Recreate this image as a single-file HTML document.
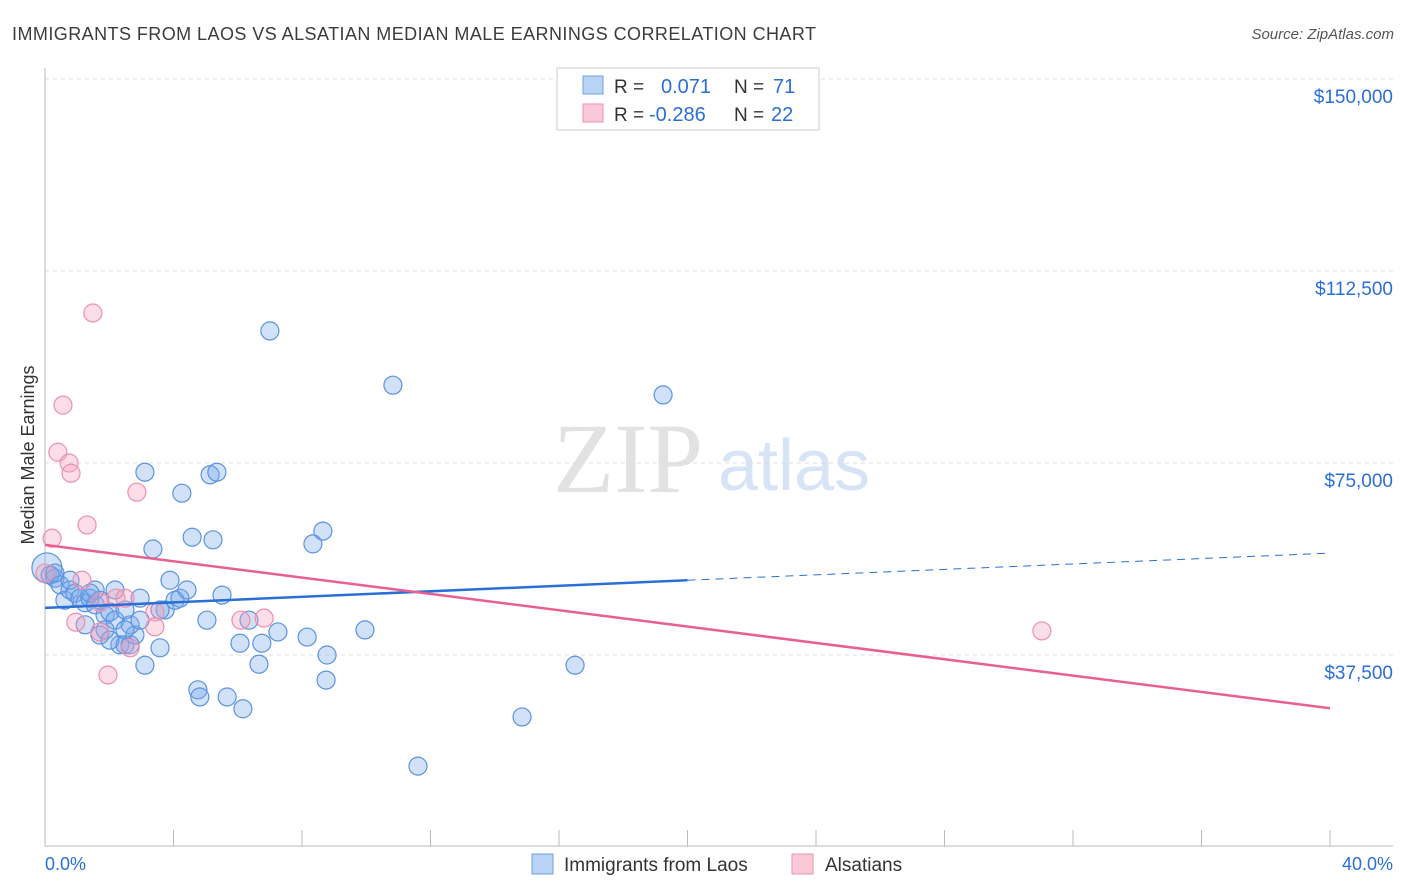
<!DOCTYPE html>
<html><head><meta charset="utf-8"><style>
body{margin:0;background:#fff;font-family:"Liberation Sans",sans-serif}
svg{display:block}
</style></head><body>
<svg id="chart" width="1406" height="892">
<text x="12" y="40" font-size="18" fill="#3c3c3c" textLength="804">IMMIGRANTS FROM LAOS VS ALSATIAN MEDIAN MALE EARNINGS CORRELATION CHART</text>
<text x="1394" y="39" font-size="15" fill="#555" text-anchor="end" font-style="italic">Source: ZipAtlas.com</text>
<text x="0" y="0" transform="translate(34,455) rotate(-90)" font-size="18" fill="#333" text-anchor="middle">Median Male Earnings</text>
<text x="553" y="492" font-size="100" fill="#e2e2e2" font-family="Liberation Serif,serif">ZIP</text>
<text x="718" y="490" font-size="72" fill="#d6e4f5">atlas</text>
<g id="grid"></g><g id="axes"></g><g id="pts"></g><g id="lines"></g>
<g>
<rect x="557" y="68" width="262" height="62" fill="#fff" stroke="#ccc"/>
<rect x="583" y="76" width="20" height="18" fill="#b9d3f5" stroke="#6f9fe0"/>
<rect x="583" y="104" width="20" height="18" fill="#fac9d8" stroke="#ee92b1"/>
<text x="614" y="93" font-size="19" fill="#333">R =</text><text x="661" y="93" font-size="20" fill="#2a6fd6">0.071</text>
<text x="734" y="93" font-size="19" fill="#333">N =</text><text x="773" y="93" font-size="20" fill="#2a6fd6">71</text>
<text x="614" y="121" font-size="19" fill="#333">R =</text><text x="649" y="121" font-size="20" fill="#2a6fd6">-0.286</text>
<text x="734" y="121" font-size="19" fill="#333">N =</text><text x="771" y="121" font-size="20" fill="#2a6fd6">22</text>
</g>
<g>
<rect x="532" y="854" width="21" height="20" fill="#b9d3f5" stroke="#6f9fe0"/>
<text x="564" y="871" font-size="19" fill="#333">Immigrants from Laos</text>
<rect x="792" y="854" width="21" height="20" fill="#fac9d8" stroke="#ee92b1"/>
<text x="825" y="871" font-size="19" fill="#333">Alsatians</text>
</g>
<text x="45" y="870" font-size="18" fill="#2a6fd6">0.0%</text>
<text x="1393" y="870" font-size="18" fill="#2a6fd6" text-anchor="end">40.0%</text>
</svg>
<script>
const yTicks=[37.5,75,112.5,150];
const yTickLabels=["$37,500","$75,000","$112,500","$150,000"];
const blueX=[0.06,0.16,0.31,0.47,0.62,0.78,0.93,1.09,1.25,1.40,1.56,1.71,1.87,2.02,2.18,1.25,1.71,1.87,2.33,2.49,2.65,2.80,2.65,2.49,2.96,3.11,3.11,3.36,3.58,3.74,3.89,4.05,4.20,4.26,4.42,4.58,4.76,4.82,5.04,5.14,5.23,5.35,5.51,5.67,6.07,6.16,6.35,6.66,6.75,7.00,7.25,8.16,8.34,8.65,8.78,8.75,9.96,10.83,11.61,14.85,16.50,19.24,3.58,2.18,1.56,2.49,2.96,2.02,0.78,1.40,0.31];
const blueY=[54.5,53.1,52.5,51.2,48.2,50.2,49.6,48.6,47.7,48.6,47.3,48.2,45.3,45.9,44.3,43.4,41.4,42.4,39.5,39.5,39.5,41.4,43.4,42.4,48.6,35.5,73.2,58.2,38.9,46.3,52.1,48.2,48.6,69.1,50.2,60.5,30.7,29.3,44.3,72.7,60.0,73.2,49.2,29.3,39.8,27.0,44.3,35.7,39.8,100.8,42.0,41.0,59.2,61.7,37.5,32.6,42.4,90.2,15.8,25.4,35.5,88.3,46.3,50.2,50.2,46.3,44.3,40.4,52.1,49.6,53.5];
const pinkX=[0.22,1.31,1.15,1.49,0.56,0.40,0.75,0.81,2.86,0.96,1.96,2.21,2.49,3.42,3.42,1.71,2.65,6.10,6.82,31.03,0.0,1.71];
const pinkY=[60.3,62.9,52.1,104.3,86.3,77.1,75.0,73.0,69.3,43.9,33.6,48.6,48.6,45.9,43.0,47.8,38.9,44.3,44.7,42.2,53.5,42.0];
const blueLine=[[0,46.7],[20,52.1],[40,57.4]];
const pinkLine=[[0,59.0],[40,27.1]];
const NS="http://www.w3.org/2000/svg";
const X=v=>45+v/40*1285;
const Y=v=>847-v/37.5*192;
function mk(p,t,a){const e=document.createElementNS(NS,t);for(const k in a)e.setAttribute(k,a[k]);p.appendChild(e);return e;}
const grid=document.getElementById('grid'),axes=document.getElementById('axes'),pts=document.getElementById('pts'),lines=document.getElementById('lines');
yTicks.forEach((t,i)=>{
 const g=mk(grid,'line',{x1:45,x2:1393,y1:Y(t),y2:Y(t),stroke:'#ddd','stroke-dasharray':'4,4'});
 
 
 const tx=mk(grid,'text',{x:1393,y:Y(t)+24,'font-size':19,fill:'#2a6fd6','text-anchor':'end'});
 tx.textContent=yTickLabels[i];
 
 
});
mk(axes,'line',{x1:45,x2:45,y1:68,y2:846,stroke:'#bbb'});
mk(axes,'line',{x1:45,x2:1393,y1:846,y2:846,stroke:'#bbb'});
for(let i=0;i<=10;i++){
 const t=mk(axes,'line',{x1:X(i*4),x2:X(i*4),y1:830,y2:846,stroke:'#bbb'});
 
 
}
blueX.forEach((x,i)=>{
 const c=mk(pts,'circle',{cx:X(x),cy:Y(blueY[i]),r:i==0?15:9,fill:'rgba(120,170,235,0.35)',stroke:'#5b93df','stroke-width':1.2});
 
 
});
pinkX.forEach((x,i)=>{
 const c=mk(pts,'circle',{cx:X(x),cy:Y(pinkY[i]),r:9,fill:'rgba(245,160,190,0.35)',stroke:'#ec8fae','stroke-width':1.2});
 
 
});
const b1=mk(lines,'line',{x1:X(blueLine[0][0]),y1:Y(blueLine[0][1]),x2:X(blueLine[1][0]),y2:Y(blueLine[1][1]),stroke:'#2a6fd6','stroke-width':2.5});


const b2=mk(lines,'line',{x1:X(blueLine[1][0]),y1:Y(blueLine[1][1]),x2:X(blueLine[2][0]),y2:Y(blueLine[2][1]),stroke:'#2a6fd6','stroke-width':1,'stroke-dasharray':'8,6'});


const p1=mk(lines,'line',{x1:X(pinkLine[0][0]),y1:Y(pinkLine[0][1]),x2:X(pinkLine[1][0]),y2:Y(pinkLine[1][1]),stroke:'#e8608f','stroke-width':2.5});


</script>
</body></html>
